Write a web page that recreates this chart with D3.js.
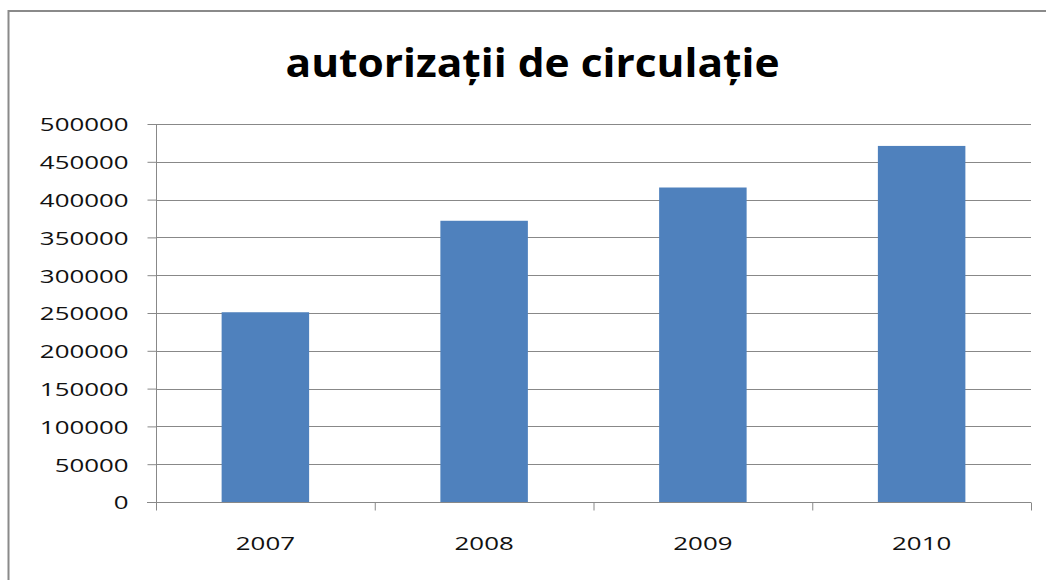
<!DOCTYPE html>
<html>
<head>
<meta charset="utf-8">
<script src="https://cdn.jsdelivr.net/npm/d3@7"></script>
<style>
  html, body { margin: 0; padding: 0; background: #fff; }
  svg { display: block; }
  .axis text { font-family: "Open Sans", sans-serif; font-size: 19px; fill: #111; }
</style>
</head>
<body>
<div class="chartWrapper"></div>
<script>
var titleText = "autorizații de circulație";
var years = ["2007", "2008", "2009", "2010"];
var values = [251000, 372000, 416000, 471000];
var yTicks = [0, 50000, 100000, 150000, 200000, 250000, 300000, 350000, 400000, 450000, 500000];

var width = 1046,
    height = 580,
    plot = { left: 156, right: 1031, top: 124, bottom: 502 },
    gridColor = "#888888",
    barColor = "#4F81BD",
    stretch = 1.36;

var svg = d3.select(".chartWrapper")
    .append("svg")
    .attr("width", width)
    .attr("height", height);

// chart border (runs off the right / bottom edge)
svg.append("rect")
    .attr("x", 8.5)
    .attr("y", 11)
    .attr("width", 1200)
    .attr("height", 800)
    .attr("fill", "none")
    .attr("stroke", "#8a8a8a")
    .attr("stroke-width", 2);

var xScale = d3.scaleBand()
    .domain(years)
    .range([plot.left, plot.right])
    .paddingInner(0.6)
    .paddingOuter(0.3);

var edgeScale = d3.scaleLinear()
    .domain([0, years.length])
    .range([plot.left, plot.right]);

var yScale = d3.scaleLinear()
    .domain([0, 500000])
    .range([plot.bottom, plot.top]);

// gridlines
svg.append("g")
    .selectAll("line")
    .data(yTicks.filter(function (d) { return d > 0; }))
    .enter()
    .append("line")
    .attr("x1", plot.left)
    .attr("x2", plot.right)
    .attr("y1", function (d) { return Math.round(yScale(d)) + 0.5; })
    .attr("y2", function (d) { return Math.round(yScale(d)) + 0.5; })
    .attr("stroke", gridColor)
    .attr("stroke-width", 1);

// bars
svg.append("g")
    .selectAll("rect")
    .data(years)
    .enter()
    .append("rect")
    .attr("x", function (d) { return xScale(d); })
    .attr("width", xScale.bandwidth())
    .attr("y", function (d, i) { return yScale(values[i]); })
    .attr("height", function (d, i) { return yScale(0) - yScale(values[i]); })
    .attr("fill", barColor);

function widen(sel) {
    sel.each(function () {
        var w = this.getComputedTextLength();
        d3.select(this)
            .attr("textLength", w * stretch)
            .attr("lengthAdjust", "spacingAndGlyphs");
    });
}

// y axis
var yAxis = d3.axisLeft(yScale)
    .tickValues(yTicks)
    .tickSize(9)
    .tickPadding(0)
    .tickFormat(function (d) { return String(d); });

var gy = svg.append("g")
    .attr("class", "axis")
    .attr("transform", "translate(" + (plot.left + 0.5) + ",0)")
    .call(yAxis);
gy.select(".domain").remove();
gy.selectAll(".tick line").attr("stroke", gridColor).attr("x1", 0);
gy.selectAll(".tick text").attr("x", -28).attr("dy", "0.36em");
widen(gy.selectAll(".tick text"));
gy.append("line")
    .attr("x1", 0).attr("x2", 0)
    .attr("y1", plot.top).attr("y2", plot.bottom)
    .attr("stroke", gridColor);

// x axis: boundary ticks + category labels
var edgeAxis = d3.axisBottom(edgeScale)
    .ticks(years.length)
    .tickSize(8)
    .tickFormat("");

var gx = svg.append("g")
    .attr("class", "axis")
    .attr("transform", "translate(0," + (plot.bottom + 0.5) + ")")
    .call(edgeAxis);
gx.select(".domain").remove();
gx.selectAll(".tick line").attr("stroke", gridColor);
gx.append("line")
    .attr("x1", plot.left - 9).attr("x2", plot.right)
    .attr("y1", 0).attr("y2", 0)
    .attr("stroke", gridColor);

var labelAxis = d3.axisBottom(xScale).tickSize(0).tickPadding(0);
var gl = svg.append("g")
    .attr("class", "axis")
    .attr("transform", "translate(0," + plot.bottom + ")")
    .call(labelAxis);
gl.select(".domain").remove();
gl.selectAll(".tick text").attr("y", 48).attr("dy", 0);
widen(gl.selectAll(".tick text"));

// title
var title = svg.append("text")
    .attr("x", (plot.left + plot.right) / 2 - 61)
    .attr("y", 77)
    .attr("text-anchor", "middle")
    .style("font-family", "'Open Sans', sans-serif")
    .style("font-weight", "bold")
    .style("font-size", "40px")
    .text(titleText);
title.attr("textLength", 494).attr("lengthAdjust", "spacingAndGlyphs");
</script>
</body>
</html>
